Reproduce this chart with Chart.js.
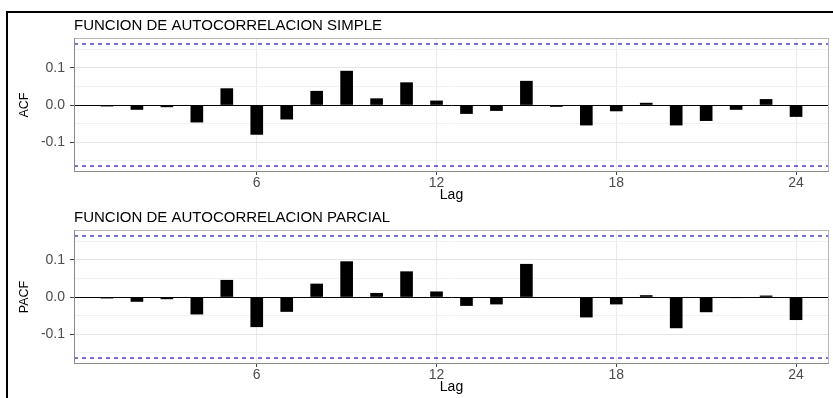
<!DOCTYPE html>
<html>
<head>
<meta charset="utf-8">
<script src="https://cdn.jsdelivr.net/npm/chart.js@4.4.1/dist/chart.umd.min.js"></script>
<style>
  html, body { margin: 0; padding: 0; background: #fff; width: 833px; height: 398px; overflow: hidden; }
  #frame { position: absolute; left: 6px; top: 11px; width: 840px; height: 400px;
           border-left: 2px solid #000; border-top: 2px solid #000; }
  canvas { position: absolute; left: 0; }
  #acfCanvas { top: 0; }
  #pacfCanvas { top: 192px; }
</style>
</head>
<body>
<div id="frame"></div>
<canvas id="acfCanvas" width="833" height="206"></canvas>
<canvas id="pacfCanvas" width="833" height="206"></canvas>
<script>
// Lags and correlation estimates
const lags = [1, 2, 3, 4, 5, 6, 7, 8, 9, 10, 11, 12, 13, 14, 15, 16, 17, 18, 19, 20, 21, 22, 23, 24];
const acfValues = [-0.003, -0.012, -0.005, -0.046, 0.044, -0.079, -0.038, 0.037, 0.091, 0.017, 0.060, 0.011,
                   -0.023, -0.015, 0.064, -0.004, -0.054, -0.016, 0.005, -0.054, -0.042, -0.012, 0.015, -0.031];
const pacfValues = [-0.003, -0.012, -0.005, -0.046, 0.045, -0.080, -0.039, 0.035, 0.095, 0.010, 0.068, 0.014,
                    -0.023, -0.019, 0.088, -0.001, -0.054, -0.019, 0.004, -0.083, -0.040, -0.002, 0.003, -0.061];

// 95% significance bound (1.96 / sqrt(n))
const confBound = 0.164;

// Axis ticks and ranges
const lagTicks = [6, 12, 18, 24];
const valueTicks = [-0.15, -0.10, -0.05, 0, 0.05, 0.10, 0.15];
const valueTickLabels = ['', '-0.1', '', '0.0', '', '0.1', ''];
const lagRange = [-0.1, 25.1];
const valueRange = [-0.18, 0.18];

const FONT = "'Liberation Sans', Arial, Helvetica, sans-serif";

// Grey panel outline drawn over the plotting area
const panelFrame = {
  id: 'panelFrame',
  afterDatasetsDraw(chart) {
    const { ctx, chartArea: a } = chart;
    ctx.save();
    ctx.lineWidth = 1;
    ctx.strokeStyle = '#b8b8b8';
    ctx.strokeRect(a.left + 0.5, a.top + 0.5, a.right - a.left - 1, a.bottom - a.top - 1);
    ctx.strokeStyle = '#8a8a8a';
    ctx.beginPath();
    ctx.moveTo(a.left + 0.5, a.top);
    ctx.lineTo(a.left + 0.5, a.bottom - 0.5);
    ctx.lineTo(a.right, a.bottom - 0.5);
    ctx.stroke();
    ctx.restore();
  }
};

function boundLine(value) {
  return {
    type: 'line',
    data: [{ x: lagRange[0], y: value }, { x: lagRange[1], y: value }],
    borderColor: '#2222ff',
    borderWidth: 1.3,
    borderDash: [4, 4],
    pointRadius: 0,
    fill: false
  };
}

function drawCorrelogram(canvasId, title, axisTitle, values) {
  return new Chart(document.getElementById(canvasId), {
    type: 'bar',
    data: {
      datasets: [
        {
          type: 'bar',
          data: lags.map((lag, i) => ({ x: lag, y: values[i] })),
          backgroundColor: '#000',
          borderWidth: 0,
          barThickness: 12
        },
        boundLine(confBound),
        boundLine(-confBound)
      ]
    },
    options: {
      responsive: false,
      animation: false,
      devicePixelRatio: 1,
      layout: { padding: { left: 0, right: 4, top: 16.5, bottom: 0 } },
      plugins: {
        legend: { display: false },
        tooltip: { enabled: false },
        title: {
          display: true,
          text: title,
          align: 'start',
          fullSize: false,
          color: '#000',
          font: { family: FONT, size: 15, weight: 'normal' },
          padding: { top: 0, bottom: 3.5 }
        }
      },
      scales: {
        x: {
          type: 'linear',
          min: lagRange[0],
          max: lagRange[1],
          offset: false,
          afterBuildTicks: s => { s.ticks = lagTicks.map(v => ({ value: v })); },
          afterFit: s => { s.height = 34; },
          border: { display: false },
          grid: { offset: false, color: '#ebebeb', lineWidth: 1, drawTicks: true, tickLength: 3, tickColor: '#444' },
          ticks: { color: '#4d4d4d', font: { family: FONT, size: 14 }, padding: 0, maxRotation: 0, autoSkip: false },
          title: { display: true, text: 'Lag', color: '#000', font: { family: FONT, size: 14 }, padding: { top: 0, bottom: 2 } }
        },
        y: {
          min: valueRange[0],
          max: valueRange[1],
          afterBuildTicks: s => { s.ticks = valueTicks.map(v => ({ value: v })); },
          afterFit: s => { s.width = 74; },
          border: { display: false },
          grid: {
            lineWidth: 1,
            drawTicks: true,
            tickLength: 4,
            color: c => c.tick && c.tick.value === 0 ? '#000'
                      : (valueTickLabels[c.index] === '' ? '#f2f2f2' : '#e4e4e4'),
            tickColor: c => valueTickLabels[c.index] === '' ? 'rgba(0,0,0,0)' : '#444'
          },
          ticks: {
            autoSkip: false,
            color: '#4d4d4d',
            font: { family: FONT, size: 14 },
            padding: 5,
            callback: (v, i) => valueTickLabels[i]
          },
          title: { display: true, text: axisTitle, color: '#000', font: { family: FONT, size: 12.5 }, padding: { top: 17.5, bottom: 0 } }
        }
      }
    },
    plugins: [panelFrame]
  });
}

drawCorrelogram('acfCanvas', 'FUNCION DE AUTOCORRELACION SIMPLE', 'ACF', acfValues);
drawCorrelogram('pacfCanvas', 'FUNCION DE AUTOCORRELACION PARCIAL', 'PACF', pacfValues);
</script>
</body>
</html>
